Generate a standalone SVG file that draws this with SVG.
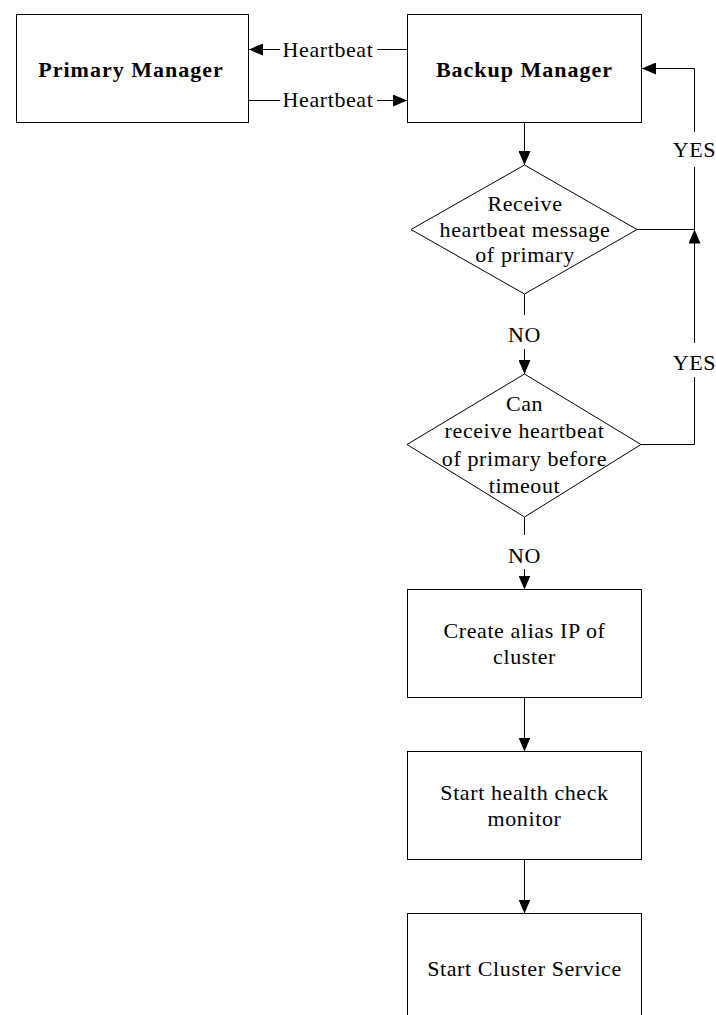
<svg xmlns="http://www.w3.org/2000/svg" width="716" height="1015" viewBox="0 0 716 1015">
  <style>
    .box { fill: #ffffff; stroke: #000000; stroke-width: 1; }
    .line { fill: none; stroke: #000000; stroke-width: 1; }
    .t { font-family: "Liberation Serif", "Times New Roman", serif; font-size: 22px; letter-spacing: 0.6px; fill: #000000; text-anchor: middle; }
    .b { font-weight: bold; letter-spacing: 1px; }
  </style>
  <defs>
    <marker id="arrow" viewBox="0 0 14 12" refX="14" refY="6" markerWidth="14" markerHeight="12" markerUnits="userSpaceOnUse" orient="auto">
      <path d="M0,0 L14,6 L0,12 z" fill="#000000"/>
    </marker>
  </defs>
  <rect width="716" height="1015" fill="#ffffff"/>

  <g id="connectors">
    <!-- heartbeat backup -> primary -->
    <line class="line" x1="407" y1="49.5" x2="377" y2="49.5"/>
    <line class="line" x1="280" y1="49.5" x2="249" y2="49.5" marker-end="url(#arrow)"/>
    <text class="t" x="328" y="57">Heartbeat</text>
    <!-- heartbeat primary -> backup -->
    <line class="line" x1="249" y1="100.5" x2="280" y2="100.5"/>
    <line class="line" x1="377" y1="100.5" x2="407" y2="100.5" marker-end="url(#arrow)"/>
    <text class="t" x="328" y="107">Heartbeat</text>
    <!-- backup -> decision 1 -->
    <line class="line" x1="524.5" y1="122" x2="524.5" y2="165" marker-end="url(#arrow)"/>
    <!-- decision 1 NO -> decision 2 -->
    <line class="line" x1="524.5" y1="294" x2="524.5" y2="315"/>
    <text class="t" x="524.5" y="342">NO</text>
    <line class="line" x1="524.5" y1="349" x2="524.5" y2="374" marker-end="url(#arrow)"/>
    <!-- decision 2 NO -> alias IP -->
    <line class="line" x1="524.5" y1="517" x2="524.5" y2="535"/>
    <text class="t" x="524.5" y="563">NO</text>
    <line class="line" x1="524.5" y1="569" x2="524.5" y2="589.5" marker-end="url(#arrow)"/>
    <!-- process chain -->
    <line class="line" x1="524.5" y1="697.5" x2="524.5" y2="751.5" marker-end="url(#arrow)"/>
    <line class="line" x1="524.5" y1="859.5" x2="524.5" y2="913.5" marker-end="url(#arrow)"/>
    <!-- YES loop back to backup manager -->
    <polyline class="line" points="637,229.5 694.5,229.5"/>
    <polyline class="line" points="641,444.5 694.5,444.5 694.5,377"/>
    <text class="t" x="694.5" y="370">YES</text>
    <line class="line" x1="694.5" y1="343" x2="694.5" y2="229.5" marker-end="url(#arrow)"/>
    <line class="line" x1="694.5" y1="229.5" x2="694.5" y2="167"/>
    <text class="t" x="694.5" y="157">YES</text>
    <polyline class="line" points="694.5,132 694.5,68.5 642,68.5" marker-end="url(#arrow)"/>
  </g>

  <g id="primary-manager">
    <rect class="box" x="16.5" y="14.5" width="232" height="108"/>
    <text class="t b" x="131" y="77">Primary Manager</text>
  </g>
  <g id="backup-manager">
    <rect class="box" x="407.5" y="14.5" width="234" height="108"/>
    <text class="t b" x="524.5" y="77">Backup Manager</text>
  </g>
  <g id="receive-heartbeat">
    <polygon class="box" points="524.5,165 637,229.5 524.5,294 411,229.5"/>
    <text class="t" x="525" y="211">Receive</text>
    <text class="t" x="525" y="237">heartbeat message</text>
    <text class="t" x="525" y="262">of primary</text>
  </g>
  <g id="heartbeat-timeout">
    <polygon class="box" points="524.5,374 641,444.5 524.5,517 407,444.5"/>
    <text class="t" x="524.5" y="411">Can</text>
    <text class="t" x="524.5" y="438">receive heartbeat</text>
    <text class="t" x="524.5" y="466">of primary before</text>
    <text class="t" x="524.5" y="493">timeout</text>
  </g>
  <g id="create-alias-ip">
    <rect class="box" x="407.5" y="589.5" width="234" height="108"/>
    <text class="t" x="524.5" y="638">Create alias IP of</text>
    <text class="t" x="524.5" y="664">cluster</text>
  </g>
  <g id="start-health-check">
    <rect class="box" x="407.5" y="751.5" width="234" height="108"/>
    <text class="t" x="524.5" y="800">Start health check</text>
    <text class="t" x="524.5" y="826">monitor</text>
  </g>
  <g id="start-cluster-service">
    <rect class="box" x="407.5" y="913.5" width="234" height="108"/>
    <text class="t" x="524.5" y="976">Start Cluster Service</text>
  </g>
</svg>
